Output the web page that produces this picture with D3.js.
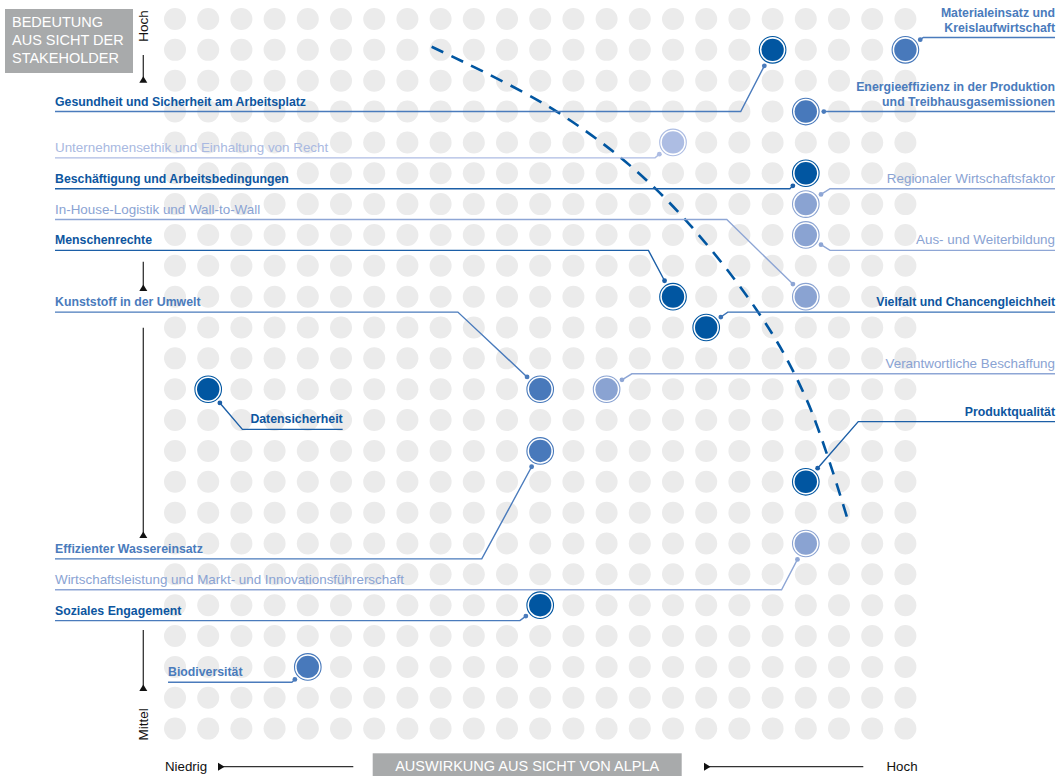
<!DOCTYPE html>
<html>
<head>
<meta charset="utf-8">
<script src="https://cdn.jsdelivr.net/npm/d3@7"></script>
<style>
  html, body { margin: 0; padding: 0; background: #fff; }
  svg { display: block; }
  text { font-family: "Liberation Sans", Arial, Helvetica, sans-serif; }
</style>
</head>
<body>
<svg id="chart" width="1058" height="776"></svg>
<script>
// ---------------- DATA ----------------
const topics = [
  "Gesundheit und Sicherheit am Arbeitsplatz",
  "Materialeinsatz und\nKreislaufwirtschaft",
  "Energieeffizienz in der Produktion\nund Treibhausgasemissionen",
  "Unternehmensethik und Einhaltung von Recht",
  "Beschäftigung und Arbeitsbedingungen",
  "Regionaler Wirtschaftsfaktor",
  "Aus- und Weiterbildung",
  "In-House-Logistik und Wall-to-Wall",
  "Menschenrechte",
  "Vielfalt und Chancengleichheit",
  "Kunststoff in der Umwelt",
  "Verantwortliche Beschaffung",
  "Datensicherheit",
  "Effizienter Wassereinsatz",
  "Produktqualität",
  "Wirtschaftsleistung und Markt- und Innovationsführerschaft",
  "Soziales Engagement",
  "Biodiversität"
];
// impact (from ALPLA's view), grid column 0..22
const impact     = [18, 22, 19, 15, 19, 19, 19, 19, 15, 16, 11, 13, 1, 11, 19, 19, 11, 4];
// importance (stakeholders' view), grid level 0..23 (bottom = 0)
const importance = [22, 22, 20, 19, 18, 17, 16, 14, 14, 13, 11, 11, 11, 9, 8, 6, 4, 2];
// colour tier of each topic
const tier = ["dark","medium","medium","lightest","dark","light","light","light","dark",
              "dark","medium","light","dark","medium","dark","light","dark","medium"];

// grid size
const gridCols = d3.range(0, 23);
const gridLevels = d3.range(0, 24);

// dashed threshold curve (impact, importance)
const thresholdImpact     = [7.73, 11.5, 14.51, 17.52, 19.03, 20.28];
const thresholdImportance = [22.1, 20.0, 17.46, 13.57, 10.65, 6.71];

// axis texts
const yAxisTitle = ["BEDEUTUNG", "AUS SICHT DER", "STAKEHOLDER"];
const xAxisTitle = "AUSWIRKUNG AUS SICHT VON ALPLA";
const yTickLabels = ["Hoch", "Mittel"];
const xTickLabels = ["Niedrig", "Hoch"];

// ---------------- LAYOUT ----------------
const labelSide = ["left","right","right","left","left","right","right","left","left",
                   "right","left","right","inlineEnd","left","right","left","left","inlineStart"];
const labelLineLevel = [20, 22.4, 20, 18.5, 17.5, 17.5, 15.5, 16.5, 15.5,
                        13.5, 13.5, 11.5, 9.7, 5.5, 9.95, 4.5, 3.5, 1.5];
const labelElbowCol = [17.04, 22.54, 19.55, 14.46, 18.52, 19.73, 19.73, 16.62, 14.26,
                       16.65, 8.52, 13.76, 2.03, 9.24, 20.58, 18.27, 10.39, 3.52];
const inlineTextCol = {12: 5.05, 17: -0.21};

const LEFT_X = 55, RIGHT_X = 1055;

const colors = {
  dark:     {fill: "#0156a1", text: "#0d56a0", line: "#1c5fa7"},
  medium:   {fill: "#4879bb", text: "#4a7bbc", line: "#4a7bbc"},
  light:    {fill: "#8aa3d2", text: "#8aa3d3", line: "#8ea6d5"},
  lightest: {fill: "#adbde3", text: "#a9b9e1", line: "#adbce3"}
};
const lineOverride = {0: "#4a7bbc", 16: "#4a7bbc", 9: "#3a72b6"};

const svg = d3.select("#chart");
const x = d3.scaleLinear().domain([0, 22]).range([175, 905.4]);
const y = d3.scaleLinear().domain([0, 23]).range([728.6, 19]);

// grey grid
const gridData = [];
gridLevels.forEach(l => gridCols.forEach(c => gridData.push({c, l})));
svg.append("g").selectAll("circle").data(gridData).join("circle")
  .attr("cx", d => x(d.c)).attr("cy", d => y(d.l)).attr("r", 11)
  .attr("fill", "#ebebeb");

// dashed threshold curve
const curvePts = thresholdImpact.map((v, i) => [x(v), y(thresholdImportance[i])]);
svg.append("path")
  .attr("d", d3.line().curve(d3.curveCatmullRom.alpha(0.5))(curvePts))
  .attr("fill", "none").attr("stroke", "#0156a1").attr("stroke-width", 2.6)
  .attr("stroke-dasharray", "13,9");

// connectors + labels
const items = topics.map((t, i) => ({
  t, i, cx: x(impact[i]), cy: y(importance[i]), tier: tier[i],
  side: labelSide[i], ly: y(labelLineLevel[i]), ex: x(labelElbowCol[i])
}));

const gConn = svg.append("g");
items.forEach(d => {
  const col = colors[d.tier];
  const lc = lineOverride[d.i] || col.line;
  const dx = d.ex - d.cx, dy = d.ly - d.cy;
  const len = Math.hypot(dx, dy) || 1;
  const px = d.cx + 18 * dx / len, py = d.cy + 18 * dy / len;
  let startX;
  if (d.side === "left") startX = LEFT_X;
  else if (d.side === "right") startX = RIGHT_X;
  else startX = x(inlineTextCol[d.i]);
  gConn.append("path")
    .attr("d", d3.line()([[startX, d.ly], [d.ex, d.ly], [px, py]]))
    .attr("fill", "none").attr("stroke", lc).attr("stroke-width", 1.4);
  gConn.append("circle").attr("cx", px).attr("cy", py).attr("r", 2.4).attr("fill", lc);

  // text
  const bold = (d.tier === "dark" || d.tier === "medium");
  const lines = d.t.split("\n");
  let anchor = "start";
  if (d.side === "right" || d.side === "inlineEnd") anchor = "end";
  const txt = gConn.append("text")
    .attr("text-anchor", anchor)
    .attr("fill", col.text)
    .attr("font-size", bold ? "12.3px" : "13.4px")
    .attr("font-weight", bold ? "bold" : "normal");
  lines.forEach((ln, k) => {
    const off = lines.length === 2 ? (k === 0 ? -20.5 : -5.5) : -6;
    txt.append("tspan").attr("x", startX).attr("y", d.ly + off).text(ln);
  });
});

// highlighted circles
const gHi = svg.append("g");
items.forEach(d => {
  const col = colors[d.tier];
  gHi.append("circle").attr("cx", d.cx).attr("cy", d.cy).attr("r", 14.2).attr("fill", "#fff");
  gHi.append("circle").attr("cx", d.cx).attr("cy", d.cy).attr("r", 13.3)
    .attr("fill", "none").attr("stroke", col.fill).attr("stroke-width", 1.1);
  gHi.append("circle").attr("cx", d.cx).attr("cy", d.cy).attr("r", 11.2).attr("fill", col.fill);
});

// ---------------- AXES DECORATION ----------------
svg.append("rect").attr("x", 5).attr("y", 9).attr("width", 128).attr("height", 64).attr("fill", "#a8aaab");
const yt = svg.append("text").attr("fill", "#fff").attr("font-size", "14.5px");
yAxisTitle.forEach((s, k) => yt.append("tspan").attr("x", 12).attr("y", 26.5 + k * 18.3).text(s));

svg.append("text").attr("transform", "translate(148.3,41.7) rotate(-90)")
  .attr("font-size", "13.5px").attr("fill", "#111").text(yTickLabels[0]);
svg.append("text").attr("transform", "translate(148.3,740.5) rotate(-90)")
  .attr("font-size", "13.5px").attr("fill", "#111").text(yTickLabels[1]);

const vArrows = [[55, 82.7], [261.7, 291], [327.7, 538], [630, 691]];
const ax = 143.3;
vArrows.forEach(([a, b]) => {
  svg.append("line").attr("x1", ax).attr("x2", ax).attr("y1", a).attr("y2", b - 3)
    .attr("stroke", "#333").attr("stroke-width", 1.3);
  svg.append("path").attr("d", `M${ax - 4},${b} L${ax + 4},${b} L${ax},${b - 6.5} Z`).attr("fill", "#111");
});

const by = 766.7;
[[218, 353.3], [704, 863.3]].forEach(([a, b]) => {
  svg.append("line").attr("x1", a).attr("x2", b).attr("y1", by).attr("y2", by)
    .attr("stroke", "#333").attr("stroke-width", 1.3);
  svg.append("path").attr("d", `M${a},${by - 4} L${a},${by + 4} L${a + 6.5},${by} Z`).attr("fill", "#111");
});
svg.append("text").attr("x", 165).attr("y", 771).attr("font-size", "13.3px").attr("fill", "#111").text(xTickLabels[0]);
svg.append("text").attr("x", 886.5).attr("y", 771).attr("font-size", "13.3px").attr("fill", "#111").text(xTickLabels[1]);

svg.append("rect").attr("x", 372.7).attr("y", 753.3).attr("width", 309).attr("height", 23).attr("fill", "#a8aaab");
svg.append("text").attr("x", 527.2).attr("y", 771).attr("text-anchor", "middle")
  .attr("fill", "#fff").attr("font-size", "14.5px").text(xAxisTitle);
</script>
</body>
</html>
